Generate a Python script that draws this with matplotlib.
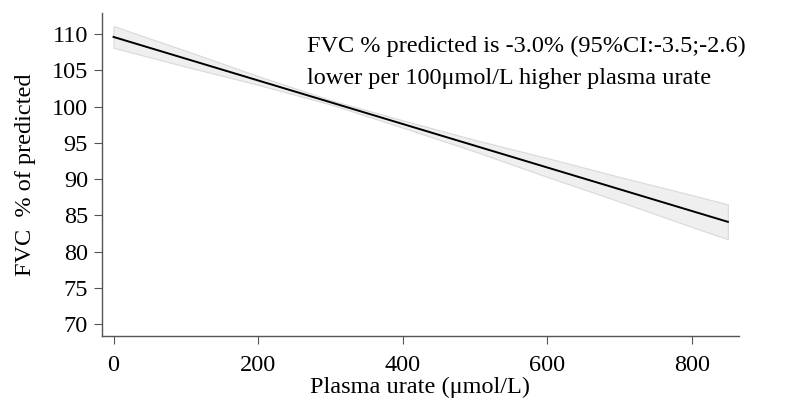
import numpy as np
import matplotlib.pyplot as plt

plt.rcParams['font.family'] = ['Liberation Serif', 'DejaVu Serif']

# fitted line and 95% CI
urate = [0, 100, 200, 300, 400, 500, 600, 700, 800, 850]
fvc_fit = [109.6, 106.6, 103.6, 100.6, 97.6, 94.6, 91.6, 88.6, 85.6, 84.1]
ci_low = [108.1, 105.5, 103.0, 100.3, 97.1, 93.8, 90.3, 86.9, 83.4, 81.7]
ci_high = [111.1, 107.7, 104.2, 100.9, 98.1, 95.4, 92.9, 90.3, 87.8, 86.5]

xticks = [0, 200, 400, 600, 800]
yticks = [70, 75, 80, 85, 90, 95, 100, 105, 110]

note1 = "FVC % predicted is -3.0% (95%CI:-3.5;-2.6)"
note2 = "lower per 100\u03bcmol/L higher plasma urate"

fs = 17.5

fig = plt.figure(figsize=(7.93, 4.07), dpi=100)
ax = fig.add_axes([0.1286, 0.1744, 0.8029, 0.7936])

ax.fill_between(urate, ci_low, ci_high, facecolor='#efefef', edgecolor='#d9d9d9', linewidth=0.8)
ax.plot(urate, fvc_fit, color='black', linewidth=1.4)

ax.set_xlim(-16, 865)
ax.set_ylim(68.35, 112.9)
ax.set_xticks(xticks)
ax.set_yticks(yticks)

for side in ['top', 'right']:
    ax.spines[side].set_visible(False)
for side in ['left', 'bottom']:
    ax.spines[side].set_color('#555555')
    ax.spines[side].set_linewidth(1.0)

ax.tick_params(direction='out', length=6, width=0.8, color='#555555', labelsize=fs)
ax.tick_params(axis='x', pad=8)
ax.tick_params(axis='y', pad=4)

ax.set_xlabel("Plasma urate (\u03bcmol/L)", fontsize=fs, labelpad=0)
ax.set_ylabel("FVC  % of predicted", fontsize=fs, labelpad=11)

ax.text(267, 108.3, note1, fontsize=fs, va='center', ha='left')
ax.text(267, 103.9, note2, fontsize=fs, va='center', ha='left')

plt.savefig("out.png", dpi=100)
